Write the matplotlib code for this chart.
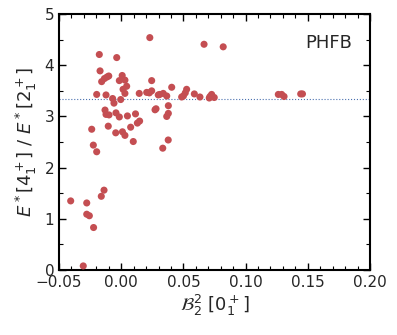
import matplotlib
matplotlib.use('Agg')
import matplotlib.pyplot as plt
from matplotlib.ticker import MultipleLocator

# B_2^2 [0_1^+] and E*(4_1^+)/E*(2_1^+)
beta2 = [0.023, -0.0176, -0.0036, -0.017, -0.0157, -0.0135, -0.0115, -0.0100, 0.0008,
         -0.0015, 0.003, 0.0015, 0.0044, 0.003, -0.0197, -0.0122, -0.0069, -0.0058,
         -0.0004, 0.0245, 0.0145, 0.0205, 0.0226, 0.0245, 0.0298, 0.031, 0.0338,
         0.0366, 0.0406, 0.0486, 0.050, 0.0526, 0.0515, 0.0588, 0.0633, 0.0666,
         0.082, 0.0708, 0.0714, 0.0727, 0.0748, 0.1263, 0.129, 0.1309, 0.1443,
         0.1457, -0.013, -0.0122, -0.0098, -0.0042, -0.0015, 0.005, 0.0115, 0.0148,
         0.013, 0.0076, -0.0104, -0.0237, -0.0044, 0.001, 0.003, 0.0272, 0.028,
         0.0379, 0.0379, 0.0366, 0.0378, 0.0334, 0.0097, -0.0224, -0.0197, -0.0138,
         -0.016, -0.0406, -0.0277, -0.0277, -0.0256, -0.0222, -0.0305]
ratio = [4.54, 4.21, 4.15, 3.89, 3.68, 3.74, 3.77, 3.79, 3.80,
         3.70, 3.71, 3.53, 3.59, 3.45, 3.43, 3.42, 3.35, 3.26,
         3.33, 3.70, 3.45, 3.47, 3.46, 3.50, 3.42, 3.43, 3.45,
         3.40, 3.57, 3.38, 3.40, 3.53, 3.46, 3.44, 3.38, 4.41,
         4.36, 3.36, 3.39, 3.43, 3.37, 3.43, 3.43, 3.39, 3.44,
         3.44, 3.125, 3.04, 3.03, 3.07, 2.99, 3.01, 3.05, 2.91,
         2.87, 2.79, 2.81, 2.75, 2.68, 2.70, 2.63, 3.13, 3.15,
         3.21, 3.06, 3.00, 2.54, 2.38, 2.51, 2.44, 2.31, 1.56,
         1.44, 1.35, 1.31, 1.09, 1.06, 0.83, 0.08]
rotor_limit = 10 / 3

fig = plt.figure(figsize=(3.97, 3.35), dpi=100)
ax = fig.add_axes([0.1486, 0.194, 0.7834, 0.764])

ax.scatter(beta2, ratio, s=26, color='#c44e52', edgecolors='none', zorder=3)
ax.axhline(rotor_limit, color='#4c72b0', ls=':', lw=0.8, zorder=2)

ax.set_xlim(-0.05, 0.20)
ax.set_ylim(0, 5)
ax.xaxis.set_major_locator(MultipleLocator(0.05))
ax.xaxis.set_minor_locator(MultipleLocator(0.01))
ax.yaxis.set_major_locator(MultipleLocator(1))
ax.yaxis.set_minor_locator(MultipleLocator(0.5))
ax.set_xticks([-0.05, 0.0, 0.05, 0.10, 0.15, 0.20])
ax.set_xticklabels(['\u22120.05', '0.00', '0.05', '0.10', '0.15', '0.20'])

ax.tick_params(which='both', direction='in', top=True, right=True,
               labelsize=11, labelcolor='#262626', color='black')
ax.tick_params(which='major', length=5, width=1)
ax.tick_params(which='minor', length=3, width=0.8)
for sp in ax.spines.values():
    sp.set_linewidth(1.5)
    sp.set_color('black')

ax.set_xlabel(r'$\mathcal{B}_2^2\ [0_1^+]$', fontsize=13, color='#262626', labelpad=2)
ax.set_ylabel(r'$E^*[4_1^+]\ /\ E^*[2_1^+]$', fontsize=13, color='#262626', labelpad=4)

ax.text(0.942, 0.888, 'PHFB', transform=ax.transAxes, ha='right', va='center',
        fontsize=13, color='#262626')

fig.savefig('out.png', dpi=100)
